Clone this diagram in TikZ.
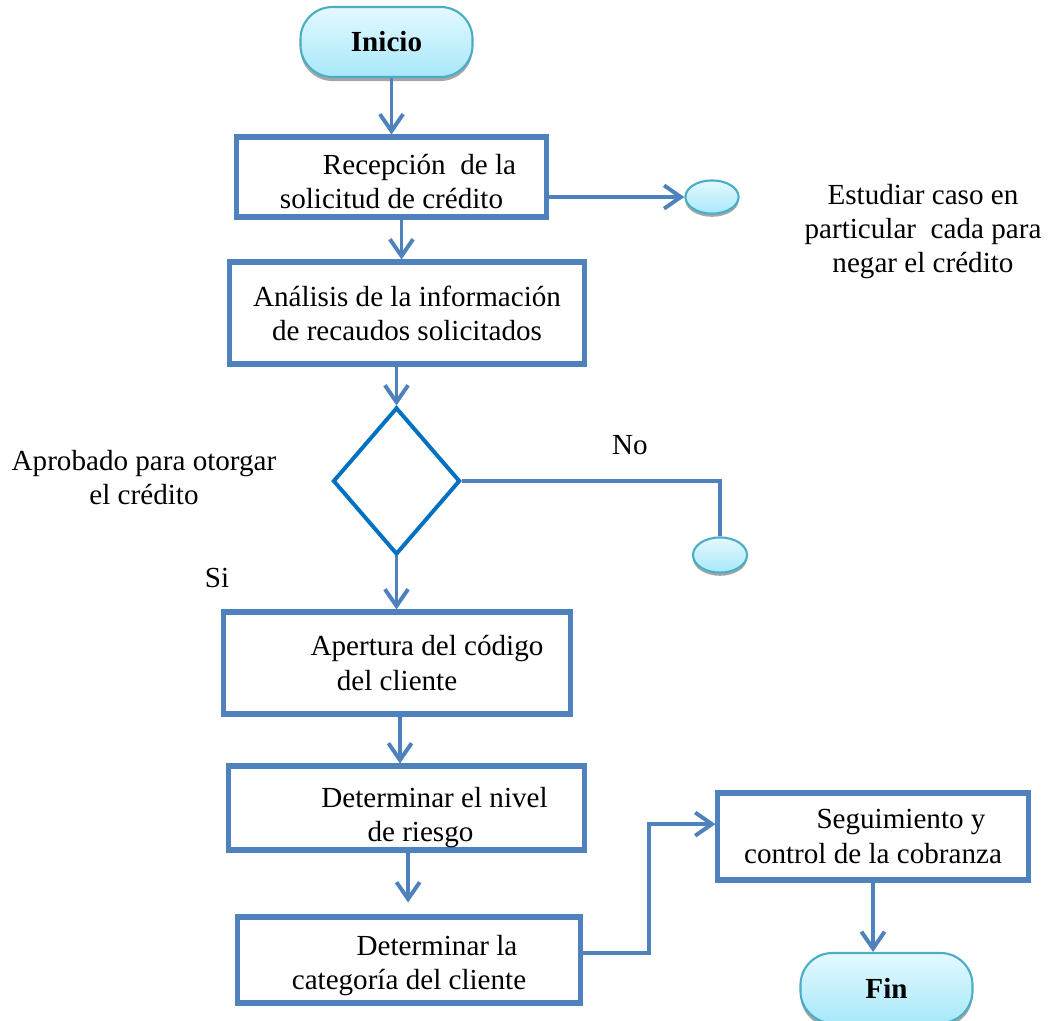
\documentclass[tikz,border=0pt]{standalone}
\usepackage{fontspec}
\setmainfont{Liberation Serif}
\usepackage{xcolor}
\usepackage{tikz}
\usetikzlibrary{shapes,arrows.meta,positioning,calc,shadows}
\definecolor{boxblue}{HTML}{4F81BD}
\definecolor{diablue}{HTML}{0070C0}
\definecolor{termline}{HTML}{4BACC6}
\definecolor{termtop}{HTML}{E4F9FF}
\definecolor{termbot}{HTML}{A8E8FA}

\begin{document}
\begin{tikzpicture}[x=0.025cm, y=-0.025cm,
        font=\fontsize{20.7}{24.2}\selectfont,
        block/.style={rectangle, draw=boxblue, line width=3.6pt, fill=white, align=center, inner sep=0pt},
        term/.style={rectangle, rounded corners=0.8cm, draw=termline, line width=1.5pt, top color=termtop, bottom color=termbot, minimum width=4.3cm, minimum height=1.75cm, font=\fontsize{20.7}{24.2}\selectfont\bfseries, drop shadow={shadow xshift=0pt, shadow yshift=-0.1cm, fill=black!35, opacity=1}},
        conn/.style={ellipse, draw=termline, line width=1.5pt, top color=termtop, bottom color=termbot, inner sep=0pt, drop shadow={shadow xshift=0pt, shadow yshift=-0.08cm, fill=black!35, opacity=1}},
        decision/.style={diamond, draw=diablue, line width=2.8pt, fill=white, minimum width=3.175cm, minimum height=3.675cm, inner sep=0pt},
        line/.style={draw=boxblue, line width=2.8pt, -{Straight Barb[length=0.42cm, width=0.58cm, line width=2.8pt]}},
        link/.style={draw=boxblue, line width=2.8pt}]
        \useasboundingbox (0,0) rectangle (1054,1021);

        \node [term] (inicio) at (386.5,42) {Inicio};
        \node [block, minimum width=7.725cm, minimum height=2cm, text height=1.6cm] (recep) at (391.5,177) {\hspace*{1.4cm}Recepción~ de la\\solicitud de crédito};
        \node [block, minimum width=8.85cm, minimum height=2.55cm] (analisis) at (407,313) {Análisis de la información\\de recaudos solicitados};
        \node [decision] (aprob) at (396.5,481) {};
        \node [block, minimum width=8.65cm, minimum height=2.55cm] (apertura) at (397,663) {\hspace*{1.5cm}Apertura del código\\del cliente};
        \node [block, minimum width=8.875cm, minimum height=2.1cm, text height=1.85cm] (riesgo) at (406.5,808) {\hspace*{1.4cm}Determinar el nivel\\\hspace*{0.7cm}de riesgo};
        \node [block, minimum width=8.55cm, minimum height=2.15cm, text height=1.65cm] (categ) at (409,960) {\hspace*{1.4cm}Determinar la\\categoría del cliente};
        \node [block, minimum width=7.75cm, minimum height=2.175cm] (segui) at (873,836.5) {\hspace*{1.4cm}Seguimiento y\\control de la cobranza};
        \node [term] (fin) at (886.5,988) {Fin};

        \node [conn, minimum width=1.33cm, minimum height=0.83cm] (circ1) at (712,197) {};
        \node [conn, minimum width=1.35cm, minimum height=0.88cm] (circ2) at (720,555) {};

        % labels
        \node [align=center] (estudiar) at (923,232) {Estudiar caso en\\particular~ cada para\\negar el crédito};
        \node (no) at (630,445) {No};
        \node [align=center] (aprobtxt) at (144,478) {Aprobado para otorgar\\el crédito};
        \node (si) at (217,578) {Si};

        \path [line] (recep.north |- inicio.south) -- (recep.north);
        \path [line] (recep.east |- circ1) -- (circ1.west);
        \path [line] ([xshift=0.25cm]recep.south) -- ([xshift=0.25cm]recep.south |- analisis.north);
        \path [line] (aprob.north |- analisis.south) -- (aprob.north);
        \draw [link] (aprob.east) -| (circ2.north);
        \path [line] (aprob.south) -- (aprob.south |- apertura.north);
        \path [line] ([xshift=0.075cm]apertura.south) -- ([xshift=0.075cm]apertura.south |- riesgo.north);
        \path [line, shorten >=0.3cm] ([xshift=0.04cm]riesgo.south) -- ([xshift=0.04cm]riesgo.south |- categ.north);
        \path [line] ([yshift=0.18cm]categ.east) -- ++(66,0) |- ([yshift=0.31cm]segui.west);
        \path [line] (segui.south) -- (segui.south |- fin.north);
    \end{tikzpicture}
\end{document}
